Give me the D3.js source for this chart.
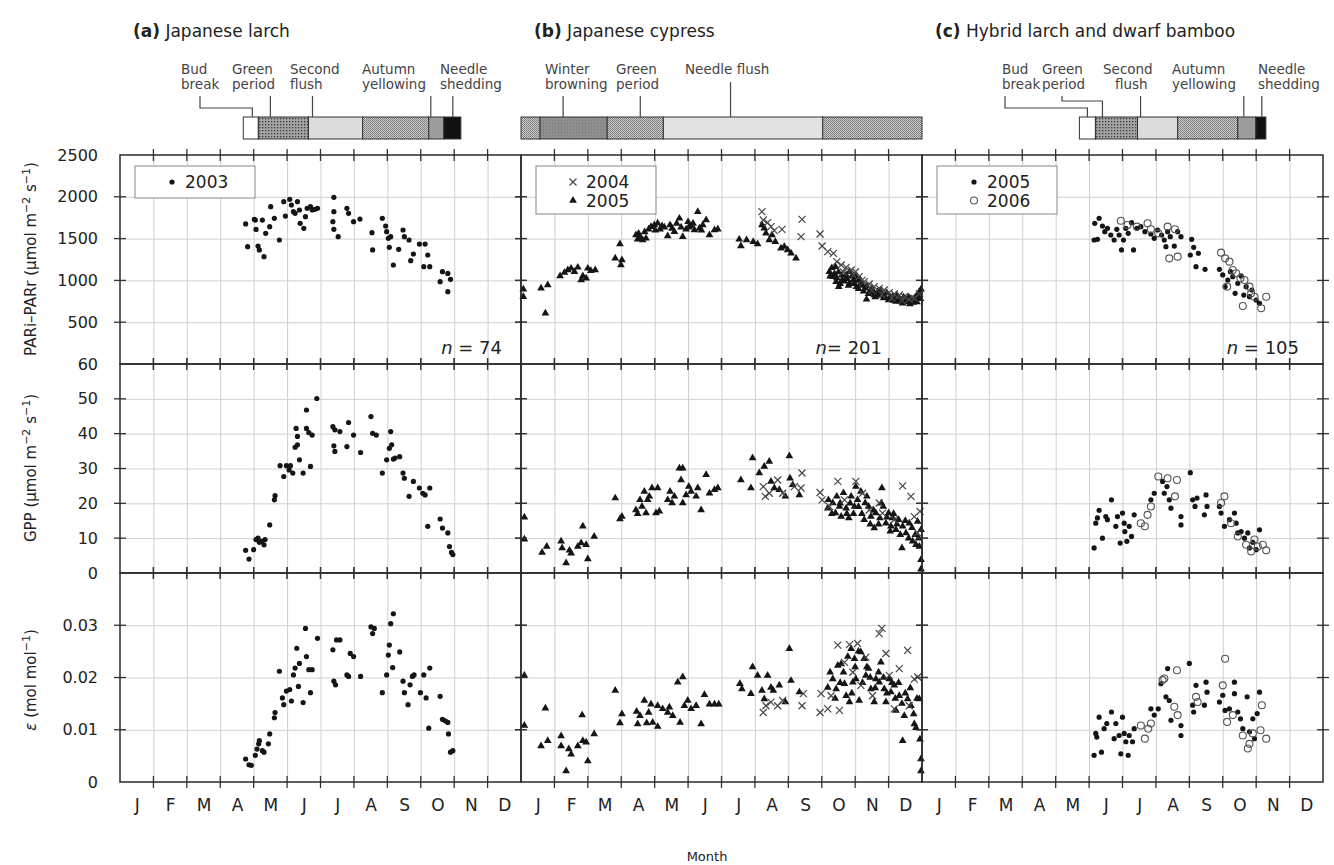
<!DOCTYPE html>
<html>
<head>
<meta charset="utf-8">
<script src="https://cdn.jsdelivr.net/npm/d3@7"></script>
<style>
  body { margin: 0; background: #fff; }
  text { font-family: "DejaVu Sans", sans-serif; fill: #222; }
</style>
</head>
<body>
<svg id="chart" width="1334" height="865"></svg>
<script>
// ---- data (x = month of year, 0 = 1 Jan, 12 = 31 Dec) ----
var monthLabels = ['J', 'F', 'M', 'A', 'M', 'J', 'J', 'A', 'S', 'O', 'N', 'D'];
var parTicks = [0, 500, 1000, 1500, 2000, 2500];
var gppTicks = [0, 10, 20, 30, 40, 50, 60];
var epsTicks = [0, 0.01, 0.02, 0.03, 0.04];

// phenology phases [start, end, phase]
var larchPhases = [[3.69, 4.14, 'bud'], [4.14, 5.64, 'green'], [5.64, 7.26, 'second'],
  [7.26, 9.24, 'autumn'], [9.24, 9.69, 'late'], [9.69, 10.2, 'shed']];
var cypressPhases = [[0, 0.57, 'evergreen'], [0.57, 2.58, 'winter'], [2.58, 4.26, 'evergreen'],
  [4.26, 9.03, 'flush'], [9.03, 12, 'evergreen']];
var hybridPhases = [[4.71, 5.19, 'bud'], [5.19, 6.45, 'green'], [6.45, 7.65, 'second'],
  [7.65, 9.45, 'autumn'], [9.45, 9.99, 'late'], [9.99, 10.29, 'shed']];

// (a) Japanese larch 2003
var larchPar = [[3.76,1675],[3.82,1404],[4.02,1730],[4.05,1722],[4.07,1610],[4.13,1411],[4.17,1364],[4.31,1284],[4.26,1722],[4.36,1563],[4.48,1643],[4.51,1882],[4.62,1742],[4.77,1483],[4.90,1942],[4.95,1770],[5.08,1970],[5.13,1902],[5.19,1822],[5.24,1802],[5.31,1942],[5.37,1842],[5.39,1683],[5.50,1623],[5.55,1762],[5.60,1862],[5.70,1882],[5.75,1842],[5.83,1850],[5.91,1862],[6.40,1994],[6.40,1822],[6.37,1703],[6.40,1611],[6.53,1523],[6.79,1862],[6.84,1802],[6.99,1703],[7.18,1734],[7.54,1571],[7.56,1364],[7.85,1742],[7.95,1651],[7.98,1583],[8.03,1503],[8.06,1396],[8.10,1523],[8.18,1184],[8.34,1372],[8.47,1603],[8.51,1523],[8.65,1483],[8.70,1236],[8.78,1316],[8.96,1435],[9.09,1164],[9.13,1435],[9.21,1304],[9.27,1164],[9.58,985],[9.65,1104],[9.81,1084],[9.89,1013],[9.81,865]];
var larchGpp = [[3.76,6.5],[3.86,4.0],[4.00,6.7],[4.07,9.6],[4.13,10.0],[4.17,8.8],[4.24,9.1],[4.31,8.1],[4.34,9.6],[4.48,13.8],[4.62,21.0],[4.64,22.2],[4.79,30.8],[4.90,27.7],[4.98,30.8],[5.06,29.6],[5.10,30.8],[5.17,28.7],[5.24,36.1],[5.31,36.8],[5.27,41.5],[5.31,39.2],[5.37,32.5],[5.48,28.7],[5.58,46.8],[5.58,41.5],[5.65,40.3],[5.75,39.6],[5.70,30.6],[5.89,50.1],[6.37,42.0],[6.43,41.1],[6.40,36.5],[6.43,34.9],[6.58,40.6],[6.79,36.3],[6.84,43.2],[6.99,39.6],[7.20,34.6],[7.51,44.9],[7.56,40.1],[7.67,39.6],[7.85,28.7],[7.98,32.5],[8.06,35.8],[8.10,40.6],[8.13,36.8],[8.18,32.7],[8.23,33.0],[8.37,33.4],[8.47,28.7],[8.51,27.2],[8.65,22.0],[8.78,26.3],[8.96,24.4],[9.06,22.9],[9.13,22.4],[9.27,24.4],[9.21,13.4],[9.58,15.5],[9.65,12.9],[9.81,11.5],[9.86,7.6],[9.92,5.9],[9.96,5.3]];
var larchEps = [[3.76,0.0044],[3.86,0.0033],[3.93,0.0032],[4.05,0.0051],[4.10,0.0063],[4.15,0.0073],[4.17,0.0079],[4.26,0.0060],[4.31,0.0057],[4.44,0.0073],[4.48,0.0092],[4.62,0.0123],[4.64,0.0133],[4.77,0.0212],[4.86,0.0161],[4.90,0.0148],[4.98,0.0174],[5.08,0.0177],[5.13,0.0155],[5.19,0.0205],[5.24,0.0218],[5.29,0.0256],[5.34,0.0183],[5.37,0.0227],[5.48,0.0152],[5.55,0.0294],[5.58,0.0240],[5.65,0.0215],[5.70,0.0171],[5.75,0.0215],[5.91,0.0275],[6.37,0.0253],[6.40,0.0193],[6.45,0.0186],[6.48,0.0272],[6.58,0.0272],[6.79,0.0205],[6.84,0.0202],[6.89,0.0246],[6.99,0.0240],[7.20,0.0202],[7.51,0.0297],[7.56,0.0284],[7.61,0.0294],[7.85,0.0171],[7.98,0.0205],[8.03,0.0243],[8.06,0.0262],[8.10,0.0303],[8.18,0.0322],[8.16,0.0219],[8.37,0.0249],[8.47,0.0193],[8.51,0.0171],[8.62,0.0148],[8.68,0.0186],[8.75,0.0202],[8.80,0.0205],[8.99,0.0171],[9.09,0.0205],[9.16,0.0161],[9.24,0.0103],[9.27,0.0218],[9.58,0.0164],[9.65,0.0120],[9.73,0.0117],[9.81,0.0114],[9.83,0.0092],[9.89,0.0057],[9.96,0.0060]];

// (b) Japanese cypress 2004 (crosses) and 2005 (triangles)
var cypress2005Par = [[0.07,893],[0.07,805],[0.60,905],[0.73,606],[0.80,945],[1.17,1053],[1.30,1093],[1.40,1124],[1.50,1144],[1.60,1104],[1.70,1156],[1.80,1005],[1.85,1053],[1.95,1025],[2.00,1144],[2.09,1116],[2.22,1124],[2.82,1264],[2.96,1435],[2.99,1184],[3.02,1244],[3.44,1543],[3.49,1491],[3.52,1560],[3.56,1515],[3.64,1483],[3.70,1580],[3.74,1503],[3.82,1611],[3.89,1643],[3.99,1663],[4.02,1600],[4.09,1683],[4.16,1611],[4.22,1650],[4.29,1635],[4.39,1531],[4.46,1663],[4.52,1620],[4.59,1583],[4.66,1680],[4.74,1742],[4.79,1635],[4.84,1523],[4.94,1611],[5.00,1700],[5.02,1635],[5.09,1651],[5.15,1680],[5.19,1603],[5.29,1822],[5.34,1623],[5.40,1600],[5.44,1663],[5.54,1722],[5.64,1543],[5.79,1603],[5.89,1611],[6.53,1491],[6.58,1411],[6.75,1483],[6.95,1463],[7.08,1435],[7.21,1663],[7.28,1623],[7.33,1563],[7.43,1483],[7.51,1543],[7.61,1463],[7.78,1384],[7.88,1404],[7.98,1364],[8.08,1324],[8.23,1264],[9.23,1104],[9.25,1050],[9.30,1150],[9.33,1045],[9.38,1080],[9.41,1164],[9.43,985],[9.45,1030],[9.50,1100],[9.51,925],[9.55,960],[9.60,1060],[9.61,1005],[9.68,990],[9.73,1065],[9.75,1020],[9.80,940],[9.83,965],[9.83,1104],[9.90,1050],[9.95,1005],[9.97,960],[10.02,1045],[10.04,925],[10.05,1000],[10.10,900],[10.15,1010],[10.17,965],[10.22,940],[10.25,870],[10.30,905],[10.34,773],[10.35,930],[10.40,840],[10.44,865],[10.50,900],[10.55,860],[10.57,825],[10.60,800],[10.67,865],[10.70,820],[10.75,880],[10.80,845],[10.85,790],[10.90,805],[10.95,850],[11.00,765],[11.05,800],[11.12,805],[11.15,760],[11.22,746],[11.25,820],[11.32,773],[11.35,750],[11.42,726],[11.45,800],[11.52,765],[11.55,740],[11.60,800],[11.64,718],[11.70,760],[11.74,734],[11.80,780],[11.82,805],[11.85,740],[11.90,820],[11.92,865],[11.95,780],[11.97,893]];
var cypress2004Par = [[7.21,1822],[7.25,1722],[7.38,1691],[7.48,1643],[7.58,1595],[7.81,1611],[8.41,1730],[8.38,1523],[8.95,1555],[9.01,1411],[9.18,1344],[9.35,1324],[9.45,1224],[9.58,1184],[9.65,1100],[9.73,1156],[9.88,1124],[9.95,1060],[10.01,1104],[10.12,1045],[10.20,1000],[10.27,985],[10.42,957],[10.50,880],[10.57,925],[10.72,905],[10.80,830],[10.87,885],[11.02,853],[11.10,790],[11.17,837],[11.32,825],[11.40,760],[11.47,805],[11.62,773],[11.70,800],[11.77,785],[11.92,837]];
var cypress2005Gpp = [[0.10,16.0],[0.10,9.7],[0.63,5.9],[0.77,7.6],[1.20,9.1],[1.23,7.2],[1.35,2.9],[1.45,6.5],[1.50,5.7],[1.70,7.6],[1.80,8.6],[1.85,13.4],[1.95,8.1],[2.00,4.0],[2.19,10.5],[2.82,21.5],[2.96,15.5],[3.02,16.2],[3.44,18.1],[3.49,17.0],[3.56,21.0],[3.62,19.1],[3.69,23.4],[3.74,17.2],[3.79,21.0],[3.84,22.0],[3.92,24.4],[4.04,17.2],[4.09,24.4],[4.14,17.7],[4.39,21.0],[4.46,23.4],[4.52,20.1],[4.59,22.0],[4.74,30.1],[4.79,26.7],[4.84,30.1],[4.84,20.1],[4.94,22.4],[5.02,24.8],[5.09,23.4],[5.24,22.0],[5.29,24.4],[5.39,18.1],[5.54,28.2],[5.64,22.9],[5.79,23.9],[5.89,24.4],[6.58,26.7],[6.88,24.4],[6.93,33.0],[7.13,28.7],[7.28,30.6],[7.43,32.0],[7.48,26.3],[7.58,24.4],[7.73,23.9],[7.91,22.0],[8.03,33.6],[8.05,27.2],[8.13,25.3],[8.33,22.4],[9.18,18.6],[9.20,21.0],[9.30,17.0],[9.33,20.1],[9.41,17.2],[9.45,22.0],[9.53,19.1],[9.55,20.0],[9.58,16.2],[9.65,23.0],[9.73,18.6],[9.75,17.0],[9.81,15.8],[9.85,20.0],[9.88,22.0],[9.95,17.0],[9.98,19.1],[10.02,24.8],[10.07,21.0],[10.10,19.0],[10.17,23.4],[10.20,17.0],[10.27,15.3],[10.30,20.1],[10.35,22.0],[10.40,19.1],[10.45,14.0],[10.47,16.2],[10.55,18.0],[10.57,12.9],[10.62,17.2],[10.70,14.0],[10.74,15.8],[10.78,20.0],[10.80,24.4],[10.84,19.1],[10.92,14.3],[10.95,16.0],[11.00,17.2],[11.05,12.0],[11.07,13.4],[11.12,15.8],[11.15,17.0],[11.22,12.4],[11.25,14.0],[11.30,15.3],[11.35,11.0],[11.40,7.2],[11.42,13.4],[11.50,15.0],[11.52,11.5],[11.60,10.0],[11.62,14.3],[11.70,13.0],[11.72,9.1],[11.80,11.0],[11.82,8.1],[11.87,14.8],[11.90,10.0],[11.92,7.6],[11.97,12.4],[11.97,3.8],[11.97,1.1]];
var cypress2004Gpp = [[7.25,24.8],[7.31,22.0],[7.43,22.9],[7.68,26.7],[7.83,22.9],[8.18,24.8],[8.41,28.7],[8.38,24.4],[8.95,23.1],[9.01,21.0],[9.23,19.1],[9.48,26.3],[9.68,21.0],[10.02,26.3],[10.22,22.9],[10.42,18.1],[10.72,20.1],[10.82,17.2],[11.17,15.3],[11.42,25.0],[11.67,22.0],[11.77,16.2],[11.87,11.5],[11.94,17.7]];
var cypress2005Eps = [[0.10,0.0204],[0.10,0.0108],[0.60,0.0069],[0.73,0.0141],[0.80,0.0079],[1.20,0.0088],[1.20,0.0069],[1.35,0.0021],[1.43,0.0063],[1.50,0.0053],[1.70,0.0069],[1.83,0.0128],[1.85,0.0079],[1.95,0.0076],[2.00,0.0040],[2.19,0.0092],[2.82,0.0175],[2.96,0.0113],[3.02,0.0130],[3.46,0.0135],[3.49,0.0111],[3.56,0.0127],[3.69,0.0156],[3.76,0.0113],[3.82,0.0133],[3.89,0.0149],[3.94,0.0114],[4.09,0.0106],[4.09,0.0146],[4.24,0.0140],[4.39,0.0133],[4.44,0.0143],[4.54,0.0127],[4.69,0.0191],[4.76,0.0114],[4.84,0.0201],[4.89,0.0146],[4.99,0.0156],[5.09,0.0140],[5.24,0.0146],[5.39,0.0111],[5.49,0.0167],[5.64,0.0149],[5.79,0.0149],[5.92,0.0149],[6.55,0.0188],[6.61,0.0178],[6.88,0.0169],[6.93,0.0220],[7.08,0.0204],[7.21,0.0175],[7.28,0.0159],[7.38,0.0204],[7.48,0.0181],[7.55,0.0175],[7.73,0.0185],[7.91,0.0153],[8.03,0.0255],[8.08,0.0194],[8.33,0.0172],[9.18,0.0181],[9.25,0.0210],[9.33,0.0197],[9.40,0.0160],[9.43,0.0178],[9.48,0.0223],[9.55,0.0190],[9.58,0.0226],[9.65,0.0210],[9.68,0.0188],[9.73,0.0165],[9.78,0.0240],[9.83,0.0153],[9.88,0.0255],[9.90,0.0170],[9.93,0.0191],[9.98,0.0236],[10.00,0.0220],[10.02,0.0197],[10.10,0.0250],[10.12,0.0156],[10.17,0.0249],[10.22,0.0190],[10.27,0.0236],[10.32,0.0204],[10.35,0.0220],[10.40,0.0217],[10.45,0.0200],[10.47,0.0178],[10.57,0.0153],[10.60,0.0180],[10.62,0.0197],[10.70,0.0210],[10.72,0.0191],[10.77,0.0229],[10.85,0.0200],[10.87,0.0178],[10.92,0.0153],[10.95,0.0170],[11.02,0.0197],[11.07,0.0172],[11.10,0.0190],[11.17,0.0185],[11.20,0.0160],[11.22,0.0137],[11.30,0.0190],[11.32,0.0165],[11.40,0.0150],[11.42,0.0079],[11.47,0.0127],[11.50,0.0170],[11.57,0.0159],[11.65,0.0180],[11.67,0.0146],[11.75,0.0130],[11.77,0.0111],[11.82,0.0104],[11.85,0.0160],[11.92,0.0159],[11.94,0.0082],[11.97,0.0044],[11.97,0.0021]];
var cypress2004Eps = [[7.25,0.0133],[7.33,0.0146],[7.48,0.0153],[7.68,0.0146],[7.83,0.0156],[8.41,0.0146],[8.45,0.0169],[8.98,0.0169],[8.95,0.0133],[9.18,0.0140],[9.28,0.0165],[9.48,0.0262],[9.53,0.0137],[9.68,0.0229],[9.83,0.0263],[9.93,0.0210],[10.07,0.0265],[10.17,0.0185],[10.32,0.0239],[10.52,0.0165],[10.72,0.0284],[10.80,0.0294],[10.92,0.0246],[11.02,0.0204],[11.17,0.0140],[11.32,0.0217],[11.57,0.0252],[11.62,0.0146],[11.77,0.0197],[11.87,0.0201]];

// (c) Hybrid larch and dwarf bamboo 2005 (dots) and 2006 (open circles)
var hybrid2005Par = [[5.15,1483],[5.25,1491],[5.17,1683],[5.30,1742],[5.40,1651],[5.47,1583],[5.55,1623],[5.65,1543],[5.75,1483],[5.83,1611],[5.90,1543],[5.97,1364],[6.03,1483],[6.10,1623],[6.17,1563],[6.27,1691],[6.33,1364],[6.43,1623],[6.55,1643],[6.67,1583],[6.85,1555],[6.95,1503],[7.05,1603],[7.17,1543],[7.25,1483],[7.30,1404],[7.35,1583],[7.43,1523],[7.55,1411],[7.65,1583],[7.75,1523],[8.03,1304],[8.07,1491],[8.13,1396],[8.20,1164],[8.27,1324],[8.47,1132],[8.90,1132],[9.00,1065],[9.07,925],[9.15,1005],[9.23,1104],[9.30,1045],[9.37,845],[9.45,965],[9.55,1053],[9.63,825],[9.70,925],[9.80,805],[9.87,885],[10.00,765],[10.10,726]];
var hybrid2006Par = [[5.95,1714],[6.15,1663],[6.43,1643],[6.75,1683],[6.85,1611],[7.07,1563],[7.35,1643],[7.57,1611],[7.65,1284],[7.40,1264],[8.95,1332],[9.07,1264],[9.20,1224],[9.30,1124],[9.40,1085],[9.53,1025],[9.65,1005],[9.80,925],[9.85,845],[9.60,694],[9.95,805],[10.15,666],[10.30,805],[9.13,925]];
var hybrid2005Gpp = [[5.15,7.2],[5.20,14.3],[5.25,15.8],[5.30,18.0],[5.40,10.0],[5.50,16.2],[5.55,15.3],[5.67,21.0],[5.80,13.4],[5.85,16.2],[5.93,8.6],[6.00,17.2],[6.05,14.3],[6.07,11.9],[6.13,9.1],[6.20,13.4],[6.27,10.5],[6.35,16.7],[6.85,21.0],[6.95,22.9],[7.20,26.3],[7.25,22.9],[7.33,24.8],[7.40,21.0],[7.45,18.6],[7.75,16.2],[7.75,13.8],[8.03,28.8],[8.10,21.0],[8.17,19.1],[8.23,21.5],[8.45,16.7],[8.50,22.4],[8.53,19.1],[8.90,19.1],[8.95,17.2],[9.05,13.4],[9.20,15.3],[9.35,17.2],[9.40,14.3],[9.45,11.5],[9.55,11.9],[9.65,10.0],[9.75,11.5],[9.80,7.2],[9.90,8.8],[10.00,6.7],[10.10,12.4]];
var hybrid2006Gpp = [[6.55,14.3],[6.67,13.4],[6.75,16.7],[6.85,19.1],[7.07,27.7],[7.35,27.2],[7.63,26.7],[7.57,22.0],[9.05,22.0],[8.95,20.1],[9.25,14.3],[9.45,10.5],[9.70,8.1],[9.85,6.2],[9.95,9.6],[10.20,8.1],[10.30,6.5],[10.05,7.6]];
var hybrid2005Eps = [[5.15,0.0051],[5.20,0.0093],[5.23,0.0086],[5.30,0.0124],[5.37,0.0057],[5.45,0.0102],[5.53,0.0112],[5.67,0.0134],[5.75,0.0083],[5.80,0.0112],[5.90,0.0089],[5.95,0.0054],[6.00,0.0124],[6.05,0.0093],[6.10,0.0077],[6.17,0.0051],[6.20,0.0089],[6.30,0.0077],[6.35,0.0102],[6.85,0.0140],[6.95,0.0128],[7.07,0.0140],[7.15,0.0188],[7.30,0.0163],[7.35,0.0217],[7.40,0.0156],[7.45,0.0118],[7.75,0.0108],[7.75,0.0089],[8.00,0.0227],[8.10,0.0147],[8.13,0.0134],[8.20,0.0185],[8.45,0.0147],[8.50,0.0191],[8.53,0.0172],[8.90,0.0153],[9.00,0.0166],[9.07,0.0137],[9.20,0.0140],[9.35,0.0191],[9.35,0.0169],[9.45,0.0134],[9.53,0.0121],[9.60,0.0102],[9.73,0.0163],[9.80,0.0096],[9.90,0.0121],[9.95,0.0083],[10.03,0.0131],[10.10,0.0172]];
var hybrid2006Eps = [[6.55,0.0108],[6.67,0.0083],[6.77,0.0102],[6.85,0.0112],[7.20,0.0195],[7.25,0.0198],[7.55,0.0144],[7.63,0.0214],[7.65,0.0128],[8.20,0.0163],[8.25,0.0153],[9.00,0.0185],[9.07,0.0236],[9.13,0.0115],[9.30,0.0128],[9.60,0.0089],[9.75,0.0064],[9.80,0.0073],[9.90,0.0093],[10.13,0.0099],[10.17,0.0147],[10.30,0.0083]];

// ---- layout ----
var svg = d3.select('#chart');
var panelW = 401;
var rows = [
  { top: 155, h: 209, domain: [0, 2500], ticks: parTicks, fmt: d3.format('d') },
  { top: 364, h: 209, domain: [0, 60], ticks: gppTicks, fmt: d3.format('d') },
  { top: 573, h: 209, domain: [0, 0.04], ticks: epsTicks, fmt: function (d) { return d === 0 ? '0' : d3.format('.2f')(d); } }
];
rows.forEach(function (r) {
  r.y = d3.scaleLinear().domain(r.domain).range([r.top + r.h, r.top]);
});
var bottom = rows[2].top + rows[2].h;

var phaseFill = {
  bud: '#fff', green: 'url(#dots)', second: '#dcdcdc', autumn: 'url(#stip)',
  late: '#9c9c9c', shed: '#111', evergreen: 'url(#stip)', winter: 'url(#winter)', flush: '#e2e2e2'
};

var panels = [
  { x0: 120, tag: '(a)', name: ' Japanese larch', phases: larchPhases,
    labels: [
      { t: ['Bud', 'break'], x: 181, sx: 200, to: 3.96, elbow: 108 },
      { t: ['Green', 'period'], x: 232, to: 4.5 },
      { t: ['Second', 'flush'], x: 290, to: 5.76 },
      { t: ['Autumn', 'yellowing'], x: 362, to: 9.3 },
      { t: ['Needle', 'shedding'], x: 440, to: 9.96 }
    ],
    series: [
      [{ data: larchPar, sym: 'dot' }],
      [{ data: larchGpp, sym: 'dot' }],
      [{ data: larchEps, sym: 'dot' }]
    ],
    legend: [{ sym: 'dot', label: '2003' }], n: '74', nx: 382, nsep: ' = ' },
  { x0: 521, tag: '(b)', name: ' Japanese cypress', phases: cypressPhases,
    labels: [
      { t: ['Winter', 'browning'], x: 545, to: 1.26 },
      { t: ['Green', 'period'], x: 616, to: 3.57 },
      { t: ['Needle flush'], x: 685, to: 6.27 }
    ],
    series: [
      [{ data: cypress2005Par, sym: 'tri' }, { data: cypress2004Par, sym: 'cross' }],
      [{ data: cypress2005Gpp, sym: 'tri' }, { data: cypress2004Gpp, sym: 'cross' }],
      [{ data: cypress2005Eps, sym: 'tri' }, { data: cypress2004Eps, sym: 'cross' }]
    ],
    legend: [{ sym: 'cross', label: '2004' }, { sym: 'tri', label: '2005' }], n: '201', nx: 361, nsep: '= ' },
  { x0: 922, tag: '(c)', name: ' Hybrid larch and dwarf bamboo', phases: hybridPhases,
    labels: [
      { t: ['Bud', 'break'], x: 1002, sx: 1005, to: 4.95, elbow: 108 },
      { t: ['Green', 'period'], x: 1042, sx: 1062, to: 5.4, elbow: 101 },
      { t: ['Second', 'flush'], x: 1103, to: 6.54, dx2: 12 },
      { t: ['Autumn', 'yellowing'], x: 1172, to: 9.63 },
      { t: ['Needle', 'shedding'], x: 1258, to: 10.17 }
    ],
    series: [
      [{ data: hybrid2005Par, sym: 'dot' }, { data: hybrid2006Par, sym: 'open' }],
      [{ data: hybrid2005Gpp, sym: 'dot' }, { data: hybrid2006Gpp, sym: 'open' }],
      [{ data: hybrid2005Eps, sym: 'dot' }, { data: hybrid2006Eps, sym: 'open' }]
    ],
    legend: [{ sym: 'dot', label: '2005' }, { sym: 'open', label: '2006' }], n: '105', nx: 377, nsep: ' = ' }
];

// patterns for the phenology bars
var defs = svg.append('defs');
var p1 = defs.append('pattern').attr('id', 'dots').attr('width', 3).attr('height', 3).attr('patternUnits', 'userSpaceOnUse');
p1.append('rect').attr('width', 3).attr('height', 3).attr('fill', '#a4a4a4');
p1.append('rect').attr('x', 1).attr('y', 1).attr('width', 1.3).attr('height', 1.3).attr('fill', '#3a3a3a');
var p2 = defs.append('pattern').attr('id', 'stip').attr('width', 2).attr('height', 2).attr('patternUnits', 'userSpaceOnUse');
p2.append('rect').attr('width', 2).attr('height', 2).attr('fill', '#d0d0d0');
p2.append('rect').attr('width', 1).attr('height', 1).attr('fill', '#747474');
p2.append('rect').attr('x', 1).attr('y', 1).attr('width', 1).attr('height', 1).attr('fill', '#858585');
var p3 = defs.append('pattern').attr('id', 'winter').attr('width', 3).attr('height', 3).attr('patternUnits', 'userSpaceOnUse');
p3.append('rect').attr('width', 3).attr('height', 3).attr('fill', '#8f8f8f');
p3.append('rect').attr('width', 1).attr('height', 1).attr('fill', '#777');

function drawMarks(g, data, sym, x, y) {
  var sel = g.selectAll(null).data(data).enter();
  if (sym === 'dot') {
    sel.append('circle').attr('cx', function (d) { return x(d[0]); }).attr('cy', function (d) { return y(d[1]); })
      .attr('r', 2.6).attr('fill', '#151515');
  } else if (sym === 'open') {
    sel.append('circle').attr('cx', function (d) { return x(d[0]); }).attr('cy', function (d) { return y(d[1]); })
      .attr('r', 3.5).attr('fill', 'none').attr('stroke', '#555').attr('stroke-width', 1.1);
  } else if (sym === 'tri') {
    sel.append('path').attr('d', d3.symbol(d3.symbolTriangle, 26)())
      .attr('transform', function (d) { return 'translate(' + x(d[0]) + ',' + y(d[1]) + ')'; })
      .attr('fill', '#151515');
  } else if (sym === 'cross') {
    sel.append('path').attr('d', 'M-3.5,-3.5L3.5,3.5M-3.5,3.5L3.5,-3.5')
      .attr('transform', function (d) { return 'translate(' + x(d[0]) + ',' + y(d[1]) + ')'; })
      .attr('stroke', '#444').attr('stroke-width', 1.2).attr('fill', 'none');
  }
}

function legendSym(g, sym, cx, cy) {
  drawMarks(g, [[0, 0]], sym, function () { return cx; }, function () { return cy; });
}

panels.forEach(function (p) {
  var x = d3.scaleLinear().domain([0, 12]).range([p.x0, p.x0 + panelW]);
  var g = svg.append('g');

  // title
  var title = g.append('text').attr('x', p.x0 + 13).attr('y', 37).style('font-size', '17px');
  title.append('tspan').style('font-weight', 'bold').text(p.tag);
  title.append('tspan').text(p.name);

  // phenology bar
  var barTop = 117, barH = 22;
  g.selectAll(null).data(p.phases).enter().append('rect')
    .attr('x', function (d) { return x(d[0]); })
    .attr('width', function (d) { return x(d[1]) - x(d[0]); })
    .attr('y', barTop).attr('height', barH)
    .attr('fill', function (d) { return phaseFill[d[2]]; })
    .attr('stroke', '#333').attr('stroke-width', 1);

  p.labels.forEach(function (l) {
    var tx = x(l.to);
    var t = g.append('text').attr('x', l.x).attr('y', 74).style('font-size', '13.5px').style('fill', '#444');
    l.t.forEach(function (line, i) {
      t.append('tspan').attr('x', l.x + (i === 1 && l.dx2 ? l.dx2 : 0)).attr('y', 74 + i * 15).text(line);
    });
    var y0 = l.t.length === 1 ? 82 : 96;
    var path;
    if (l.sx !== undefined) {
      path = 'M' + l.sx + ',' + y0 + 'V' + l.elbow + 'H' + tx + 'V' + barTop;
    } else {
      path = 'M' + tx + ',' + y0 + 'V' + barTop;
    }
    g.append('path').attr('d', path).attr('fill', 'none').attr('stroke', '#444').attr('stroke-width', 1.2);
  });

  rows.forEach(function (r, ri) {
    var y = r.y;
    // grid lines through the axes
    g.append('g').attr('transform', 'translate(0,' + (r.top + r.h) + ')')
      .call(d3.axisBottom(x).tickValues(d3.range(1, 12)).tickSize(-r.h).tickFormat(''))
      .call(function (a) { a.select('.domain').remove(); a.selectAll('line').attr('stroke', '#cfcfcf'); });
    g.append('g').attr('transform', 'translate(' + p.x0 + ',0)')
      .call(d3.axisLeft(y).tickValues(r.ticks.slice(1, -1)).tickSize(-panelW).tickFormat(''))
      .call(function (a) { a.select('.domain').remove(); a.selectAll('line').attr('stroke', '#cfcfcf'); });

    // marks
    p.series[ri].forEach(function (s) { drawMarks(g, s.data, s.sym, x, y); });

    // crossing tick marks
    var tk = g.append('g').attr('stroke', '#333').attr('stroke-width', 1.3);
    d3.range(1, 12).forEach(function (m) {
      [r.top, r.top + r.h].forEach(function (yy) {
        tk.append('line').attr('x1', x(m)).attr('x2', x(m)).attr('y1', yy - 6).attr('y2', yy + 6);
      });
    });
    r.ticks.slice(1, -1).forEach(function (v) {
      [p.x0, p.x0 + panelW].forEach(function (xx) {
        tk.append('line').attr('x1', xx - 6).attr('x2', xx + 6).attr('y1', y(v)).attr('y2', y(v));
      });
    });

    // frame
    g.append('rect').attr('x', p.x0).attr('y', r.top).attr('width', panelW).attr('height', r.h)
      .attr('fill', 'none').attr('stroke', '#2a2a2a').attr('stroke-width', 1.5);
  });

  // legend
  var lh = 16 + p.legend.length * 16;
  var lg = g.append('g');
  lg.append('rect').attr('x', p.x0 + 15).attr('y', 166).attr('width', 120).attr('height', lh)
    .attr('fill', '#fff').attr('stroke', '#888').attr('stroke-width', 1);
  p.legend.forEach(function (it, i) {
    var cy = 182 + i * 18.5;
    legendSym(lg, it.sym, p.x0 + 52, cy);
    lg.append('text').attr('x', p.x0 + 65).attr('y', cy + 6).style('font-size', '17px').text(it.label);
  });

  // n label
  var nt = g.append('text').attr('x', p.x0 + p.nx).attr('y', 354).attr('text-anchor', 'end').style('font-size', '18px');
  nt.append('tspan').style('font-style', 'italic').text('n');
  nt.append('tspan').text(p.nsep + p.n);

  // month labels via axis
  g.append('g').attr('transform', 'translate(0,' + bottom + ')')
    .call(d3.axisBottom(x).tickValues(d3.range(0.5, 12, 1)).tickSize(0).tickPadding(17)
      .tickFormat(function (d, i) { return monthLabels[i]; }))
    .call(function (a) {
      a.select('.domain').remove();
      a.selectAll('text').style('font-size', '17px').style('font-family', '"DejaVu Sans", sans-serif').attr('fill', '#222');
    });
});

// y tick labels on the left column
rows.forEach(function (r, ri) {
  var vals = ri === 0 ? r.ticks.slice(1) : (ri === 2 ? r.ticks.slice(0, -1) : r.ticks);
  svg.append('g').attr('transform', 'translate(120,0)')
    .call(d3.axisLeft(r.y).tickValues(vals).tickSize(0).tickPadding(22).tickFormat(r.fmt))
    .call(function (a) {
      a.select('.domain').remove();
      a.selectAll('text').style('font-size', '16px').style('font-family', '"DejaVu Sans", sans-serif').attr('fill', '#222');
    });
});

// axis titles
function sup(t, s) { t.append('tspan').attr('dy', -6).style('font-size', '11px').text(s); }
var t1 = svg.append('text').attr('transform', 'translate(36,259) rotate(-90)').attr('text-anchor', 'middle').style('font-size', '15px');
t1.append('tspan').text('PARi\u2013PARr (\u03bcmol m');
sup(t1, '\u22122');
t1.append('tspan').attr('dy', 6).text(' s');
sup(t1, '\u22121');
t1.append('tspan').attr('dy', 6).text(')');

var t2 = svg.append('text').attr('transform', 'translate(36,468) rotate(-90)').attr('text-anchor', 'middle').style('font-size', '15px');
t2.append('tspan').text('GPP (\u03bcmol m');
sup(t2, '\u22122');
t2.append('tspan').attr('dy', 6).text(' s');
sup(t2, '\u22121');
t2.append('tspan').attr('dy', 6).text(')');

var t3 = svg.append('text').attr('transform', 'translate(36,680) rotate(-90)').attr('text-anchor', 'middle').style('font-size', '15px');
t3.append('tspan').style('font-style', 'italic').text('\u03b5');
t3.append('tspan').text(' (mol mol');
sup(t3, '\u22121');
t3.append('tspan').attr('dy', 6).text(')');

svg.append('text').attr('x', 707).attr('y', 861).attr('text-anchor', 'middle').style('font-size', '13px').text('Month');
</script>
</body>
</html>
